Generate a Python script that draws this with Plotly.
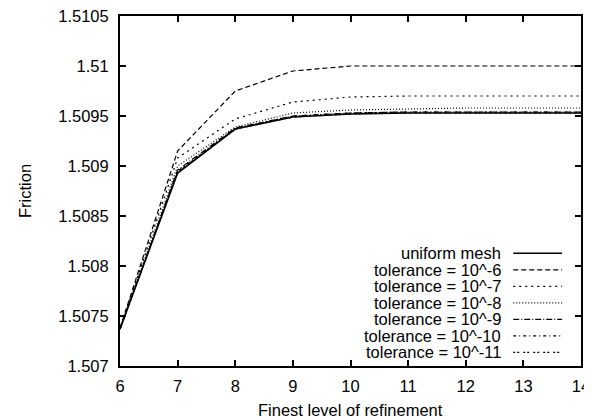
import plotly.graph_objects as go

# finest refinement level
levels = [6, 7, 8, 9, 10, 11, 12, 13, 14]

uniform = [1.50737, 1.50893, 1.50937, 1.50949, 1.50952, 1.50953, 1.50953, 1.50953, 1.50953]
tol_6 = [1.50738, 1.50915, 1.50975, 1.50995, 1.51000, 1.51000, 1.51000, 1.51000, 1.51000]
tol_7 = [1.50737, 1.50908, 1.50947, 1.50964, 1.50969, 1.50970, 1.50970, 1.50970, 1.50970]
tol_8 = [1.50737, 1.50900, 1.50939, 1.50953, 1.50956, 1.50957, 1.50958, 1.50958, 1.50958]
tol_9 = [1.50737, 1.50896, 1.50938, 1.50950, 1.50953, 1.50954, 1.50954, 1.50954, 1.50954]
tol_10 = [1.50737, 1.50895, 1.50937, 1.50950, 1.50953, 1.50954, 1.50954, 1.50954, 1.50954]
tol_11 = [1.50737, 1.50894, 1.50937, 1.50949, 1.50952, 1.50953, 1.50953, 1.50953, 1.50953]

names = ["uniform mesh", "tolerance = 10^-6", "tolerance = 10^-7", "tolerance = 10^-8",
         "tolerance = 10^-9", "tolerance = 10^-10", "tolerance = 10^-11"]
series = [uniform, tol_6, tol_7, tol_8, tol_9, tol_10, tol_11]

y_ticks = [1.507, 1.5075, 1.508, 1.5085, 1.509, 1.5095, 1.51, 1.5105]
y_ticktext = ["1.507", "1.5075", "1.508", "1.5085", "1.509", "1.5095", "1.51", "1.5105"]

# gnuplot-like line types
dashes = ["solid", "5px,3px", "2px,4px", "1px,2px", "6px,2px,1px,2px",
          "3px,3px,1px,3px", "2px,2px,2px,4px"]
widths = [1.6, 1.2, 1.2, 1.2, 1.2, 1.2, 1.2]

FONT = "Liberation Sans, Arial, sans-serif"
FS = 16.5

fig = go.Figure()
for name, ys, dash, w in zip(names, series, dashes, widths):
    fig.add_trace(go.Scatter(x=levels, y=ys, mode="lines", name=name,
                             line=dict(color="black", width=w, dash=dash),
                             showlegend=False))

# manual key: text on the left, sample on the right (gnuplot style)
key_top = 0.322
key_step = 0.0472
for i, (name, dash, w) in enumerate(zip(names, dashes, widths)):
    yk = key_top - i * key_step
    fig.add_annotation(x=0.830, y=yk, xref="paper", yref="paper", text=name,
                       showarrow=False, xanchor="right", yanchor="middle",
                       font=dict(size=FS, color="black", family=FONT))
    fig.add_shape(type="line", xref="paper", yref="paper",
                  x0=0.853, x1=0.959, y0=yk, y1=yk,
                  line=dict(color="black", width=w, dash=dash))

# axis titles
fig.add_annotation(x=0.5, y=-0.126, xref="paper", yref="paper",
                   text="Finest level of refinement", showarrow=False,
                   xanchor="center", yanchor="middle",
                   font=dict(size=FS, color="black", family=FONT))
fig.add_annotation(x=-0.206, y=0.5, xref="paper", yref="paper",
                   text="Friction", showarrow=False, textangle=-90,
                   xanchor="center", yanchor="middle",
                   font=dict(size=FS, color="black", family=FONT))

axis_common = dict(showline=True, linecolor="black", linewidth=2, mirror="allticks",
                   ticks="inside", ticklen=6, tickwidth=2, tickcolor="black",
                   showgrid=False, zeroline=False, automargin=False,
                   ticklabeloverflow="allow",
                   tickfont=dict(size=FS, color="black", family=FONT))

# the page body adds an 8px offset, margins are reduced to compensate
fig.update_layout(
    width=592, height=419,
    margin=dict(l=112, r=19, t=8, b=61, autoexpand=False),
    plot_bgcolor="white", paper_bgcolor="white",
    font=dict(family=FONT, size=FS, color="black"),
    xaxis=dict(range=[6, 14], tickvals=levels, ticklabelstandoff=4, **axis_common),
    yaxis=dict(range=[1.507, 1.5105], tickvals=y_ticks, ticktext=y_ticktext,
               ticklabelstandoff=6, **axis_common),
)

fig.write_html("out.html")
